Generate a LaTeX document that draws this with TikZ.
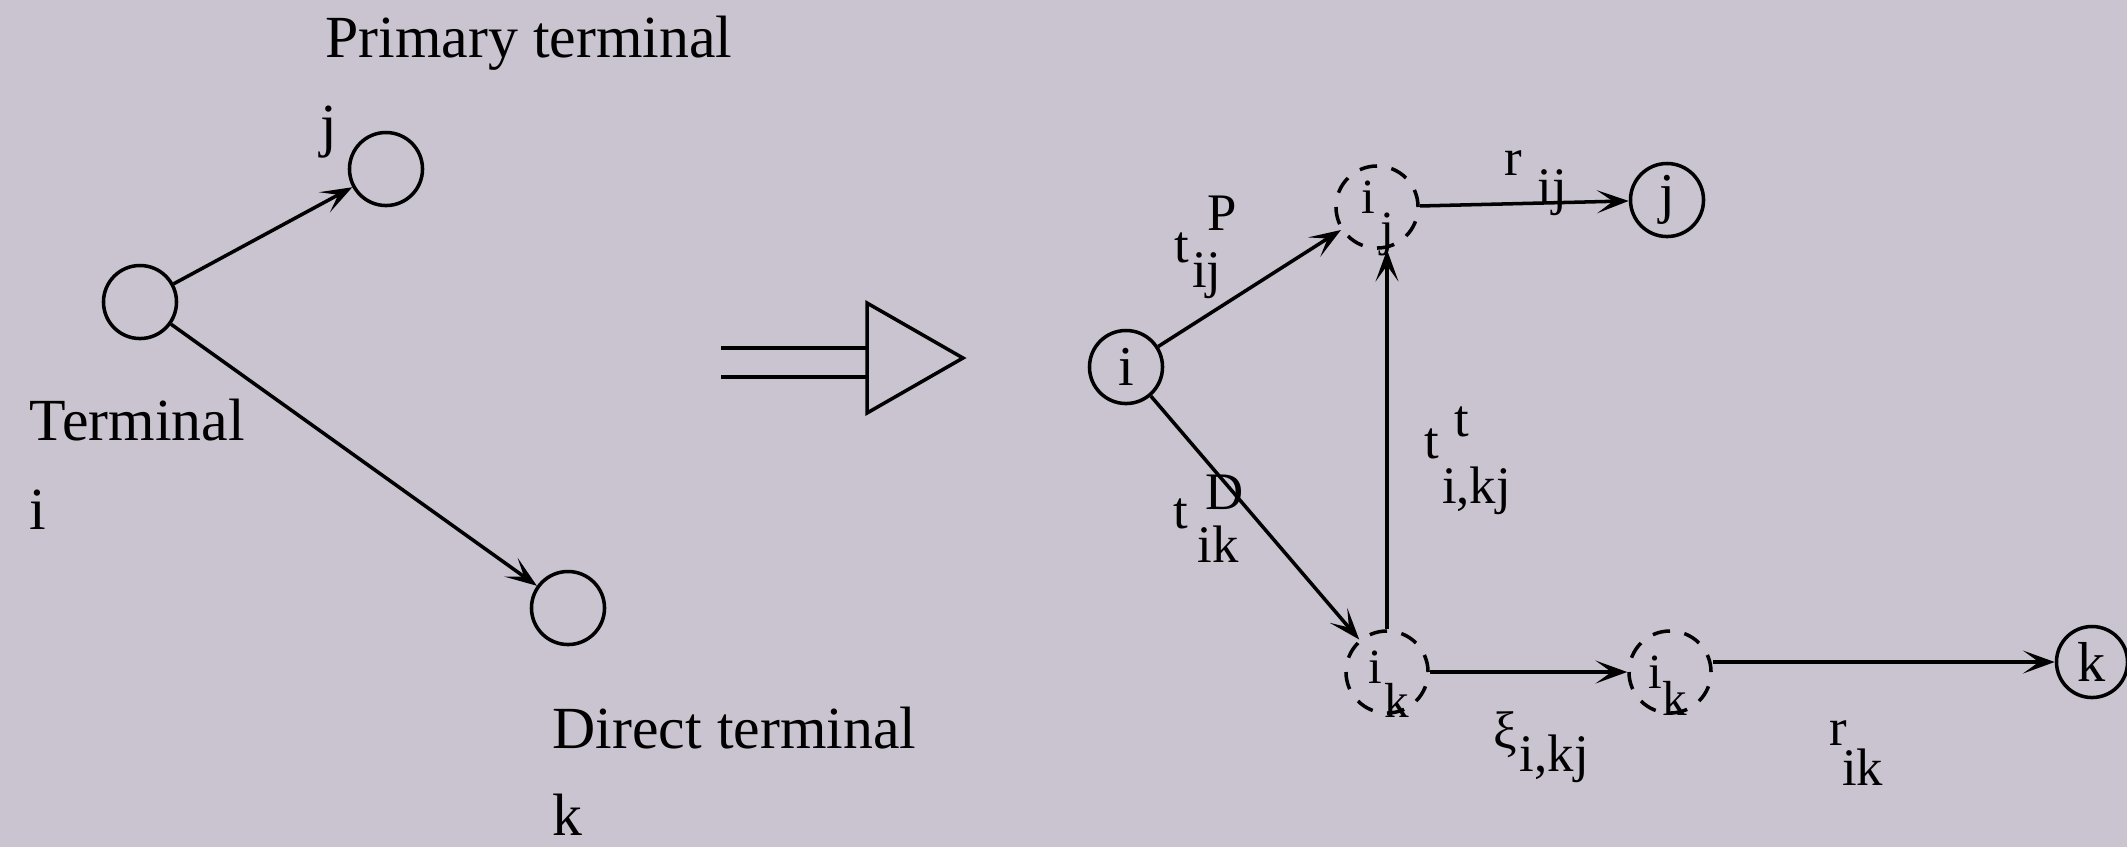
\documentclass[tikz,border=0pt]{standalone}
\usepackage{fontspec}
\setmainfont{Liberation Serif}
\usetikzlibrary{arrows.meta}
\definecolor{paper}{RGB}{201,196,208}

% raised / lowered index text
\newcommand{\up}[3]{\rlap{\hspace{#1}\raisebox{#2}{#3}}}
\newcommand{\dn}[2]{\raisebox{-#1}{#2}}

\begin{document}
\begin{tikzpicture}[x=0.01cm,y=-0.01cm,
    term/.style={circle,draw,line width=1pt,minimum size=0.73cm,inner sep=0pt,font=\fontsize{16}{18}\selectfont},
    virt/.style={circle,draw,line width=1pt,dash pattern=on 5pt off 4.16pt,minimum size=0.82cm,inner sep=0pt},
    arr/.style={-{Stealth[length=9pt,width=6.5pt,inset=4.5pt]},line width=1pt},
    lab/.style={font=\fontsize{15}{17}\selectfont,inner sep=0pt,anchor=base west},
    vlab/.style={font=\fontsize{14}{16}\selectfont,inner sep=0pt,anchor=base west},
    txt/.style={font=\fontsize{17}{20}\selectfont,inner sep=0pt,anchor=base west}]
    \fill[paper] (0,0) rectangle (2127,847);
    \useasboundingbox (0,0) rectangle (2127,847);
    % original network
    \node[term] (Ti) at (140,302) {};
    \node[term] (Tj) at (386,169) {};
    \node[term] (Tk) at (568,608) {};
    \draw[arr] (Ti) -- (Tj);
    \draw[arr] (Ti) -- (Tk);
    \node[txt] (Tprim) at (325,57) {Primary terminal};
    \node[txt] (Tjname) at (320,145) {j};
    \node[txt] (Tterm) at (29,440) {Terminal};
    \node[txt] (Tiname) at (29,529) {i};
    \node[txt] (Tdir) at (552,748) {Direct terminal};
    \node[txt] (Tkname) at (552,835) {k};
    %
    % transformation arrow
    \coordinate (A1) at (721,348);
    \coordinate (A2) at (721,377);
    \coordinate (B1) at (867,303);
    \coordinate (B2) at (963,358);
    \coordinate (B3) at (867,413);
    \draw[line width=1pt] (A1) -- (A1 -| B1) (A2) -- (A2 -| B1);
    \draw[line width=1pt] (B1) -- (B2) -- (B3) -- cycle;
    %
    % expanded network
    \node[term] (Ni) at (1126,367) {i};
    \node[virt] (Nij) at (1377,207) {};
    \node[term] (Nj) at (1667,200) {j};
    \node[virt] (Nik) at (1387,672) {};
    \node[virt] (Nikb) at (1670,672) {};
    \node[term,minimum size=0.71cm] (Nk) at (2092,662) {k};
    \node[vlab] (Nijtxt) at (1361,213) {i\hspace{0.1em}\dn{0.65em}{j}};
    \node[vlab] (Niktxt) at (1368,683) {i\hspace{0.05em}\dn{0.7em}{k}};
    \node[vlab] (Nikbtxt) at (1648,688) {i\dn{0.55em}{k}};
    %
    \draw[arr] (Ni) -- (Nij);
    \draw[arr] (Ni) -- (Nik);
    \draw[arr] (Nik) -- (Nik |- Nij.south);
    \draw[arr] (Nij) -- (Nj);
    \draw[arr] (Nik) -- (Nikb);
    \draw[arr] (Nikb.east |- Nk.west) -- (Nk.west);
    %
    \node[lab] (Lp) at (1174,262) {t\up{0.35em}{0.6em}{P}\hspace{0.05em}\dn{0.48em}{ij}};
    \node[lab] (Ld) at (1173,528) {t\up{0.33em}{0.35em}{D}\hspace{0.17em}\dn{0.65em}{ik}};
    \node[lab] (Lt) at (1424,458) {t\up{0.29em}{0.4em}{t}\hspace{0.05em}\dn{0.86em}{i,kj}};
    \node[lab] (Lrj) at (1504,175) {r\hspace{0.29em}\dn{0.55em}{ij}};
    \node[lab] (Lxi) at (1493,748) {ξ\hspace{0.05em}\dn{0.45em}{i,kj}};
    \node[lab] (Lrk) at (1829,745) {r\hspace{-0.1em}\dn{0.76em}{ik}};
\end{tikzpicture}
\end{document}
